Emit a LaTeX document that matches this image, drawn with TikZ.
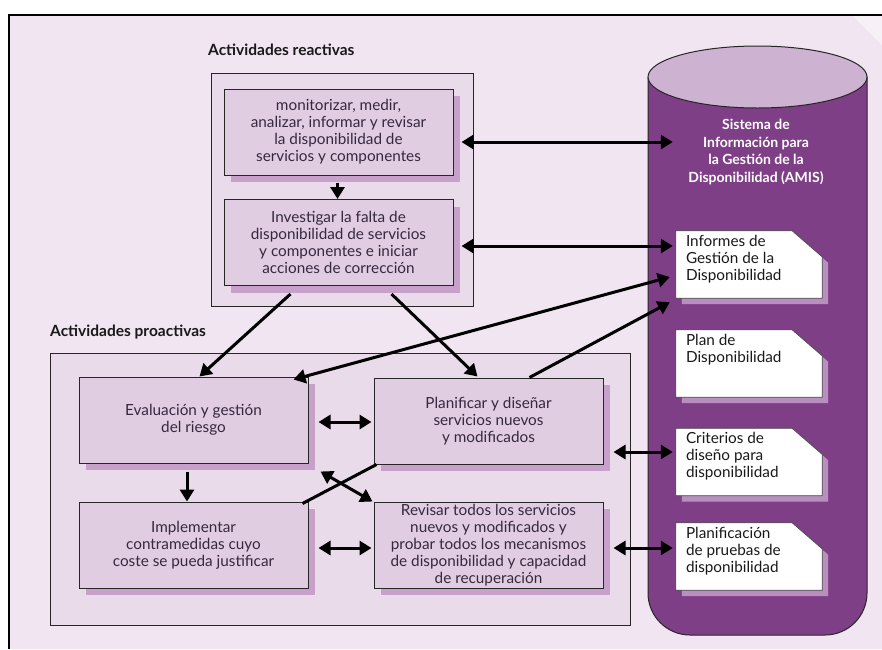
\documentclass[tikz,border=0pt]{standalone}
\usepackage{fontspec}
\setmainfont{Lato}
\usetikzlibrary{arrows.meta,calc,shadows}

\definecolor{pagebg}{HTML}{F0E5F0}
\definecolor{cornerbg}{HTML}{F7F1F7}
\definecolor{groupfill}{HTML}{E9DBEA}
\definecolor{boxfill}{HTML}{E0CDE1}
\definecolor{boxshade}{HTML}{C7A1C9}
\definecolor{boxtext}{HTML}{35283F}
\definecolor{cylbody}{HTML}{7F3F87}
\definecolor{cyltop}{HTML}{CDB2D1}
\definecolor{docshade}{HTML}{B98FC0}

% folded-corner page drawn on the frame of an empty node
\newcommand\docpage[1]{%
  \fill[docshade] ($(#1.north west)+(6,6)$) -- ($(#1.north east)+(-24,6)$)
    -- ($(#1.north east)+(6,32)$) -- ($(#1.south east)+(6,6)$)
    -- ($(#1.south west)+(6,6)$) -- cycle;
  \draw[fill=white, draw=black!70, line width=0.8pt] (#1.north west)
    -- ($(#1.north east)+(-30,0)$) -- ($(#1.north east)+(0,26)$)
    -- (#1.south east) -- (#1.south west) -- cycle;}

\begin{document}
\begin{tikzpicture}[x=1pt, y=-1pt,
  grouplabel/.style={font=\bfseries\fontsize{15.5}{17}\selectfont, text=black!90, anchor=west, inner sep=0pt},
  groupbox/.style={draw=black!85, line width=1pt, fill=groupfill},
  actbox/.style={draw=black!85, line width=1pt, fill=boxfill, text=boxtext,
    minimum width=229pt, minimum height=86pt, inner sep=1pt, align=center,
    font=\fontsize{15.3}{17}\selectfont,
    drop shadow={shadow xshift=7pt, shadow yshift=-7pt, fill=boxshade, opacity=1}},
  docarea/.style={minimum width=146pt, minimum height=67pt, inner sep=0pt},
  doctext/.style={anchor=north west, align=left, inner sep=0pt, text=black!90,
    font=\fontsize{15.3}{17}\selectfont},
  conn/.style={line width=3pt, -{Triangle[length=12pt,width=14pt]}},
  dconn/.style={line width=3pt, {Triangle[length=12pt,width=14pt]}-{Triangle[length=12pt,width=14pt]}},
  plain/.style={line width=3pt}]

\useasboundingbox (0,0) rectangle (882,649);

% page background and frame
\fill[white] (0,0) rectangle (882,649);
\fill[pagebg] (9,15) -- (852,15) -- (882,45) -- (882,649) -- (9,649) -- cycle;
\fill[cornerbg] (852,15) -- (882,15) -- (882,45) -- cycle;
\draw[line width=2pt] (9,649) -- (9,15) -- (882,15);

% group frames
\node[grouplabel] (lreac) at (208,50) {Actividades reactivas};
\node[grouplabel] (lproa) at (50,332) {Actividades proactivas};
\node[groupbox, minimum width=262pt, minimum height=233pt] (reac) at (342,189.5) {};
\node[groupbox, minimum width=580pt, minimum height=272pt] (proa) at (340,489) {};

% AMIS cylinder
\draw[fill=cylbody, draw=black!85, line width=1pt]
  (648,77) [rounded corners=42pt] -- (648,635) -- (867,635) [sharp corners] -- (867,77) -- cycle;
\draw[fill=cyltop, draw=black!85, line width=1pt] (757.5,77) ellipse [x radius=109.5pt, y radius=31pt];
\node[font=\bfseries\fontsize{14}{17.5}\selectfont, text=white, align=center] (amis) at (756,152)
  {Sistema de\\Información para\\la Gestión de la\\Disponibilidad (AMIS)};

% documents held in AMIS
\path node[docarea] (d1) at (749,264.5) {};
\docpage{d1}
\node[doctext] (t1) at ($(d1.north west)+(10,4)$) {Informes de\\Gestión de la\\Disponibilidad};
\path node[docarea] (d2) at (749,363.5) {};
\docpage{d2}
\node[doctext] (t2) at ($(d2.north west)+(10,4)$) {Plan de\\Disponibilidad};
\path node[docarea] (d3) at (749,462) {};
\docpage{d3}
\node[doctext] (t3) at ($(d3.north west)+(10,4)$) {Criterios de\\diseño para\\disponibilidad};
\path node[docarea] (d4) at (749,556.5) {};
\docpage{d4}
\node[doctext] (t4) at ($(d4.north west)+(10,4)$) {Planificación\\de pruebas de\\disponibilidad};

% activity boxes
\node[actbox] (b1) at (338.5,132) {monitorizar, medir,\\analizar, informar y revisar\\la disponibilidad de\\servicios y componentes};
\node[actbox] (b2) at (338.5,242.5) {Investigar la falta de\\disponibilidad de servicios\\y componentes e iniciar\\acciones de corrección};
\node[actbox] (ev) at (193.5,420) {Evaluación y gestión\\del riesgo};
\node[actbox] (im) at (193.5,545) {Implementar\\contramedidas cuyo\\coste se pueda justificar};
\node[actbox] (pl) at (488.5,421) {Planificar y diseñar\\servicios nuevos\\y modificados};
\node[actbox, inner ysep=0pt] (rv) at (488.5,545) {Revisar todos los servicios\\nuevos y modificados y\\probar todos los mecanismos\\de disponibilidad y capacidad\\de recuperación};

% connectors
\coordinate (s1) at ($(b1.east)+(8,10)$);
\coordinate (s2) at ($(b2.east)+(8,3.5)$);
\coordinate (s12) at ($(pl.east)+(10,31)$);
\coordinate (s13) at ($(rv.east)+(10,3)$);
\draw[dconn, shorten >=3pt] (s1) -- (s1 -| d1.west);
\draw[dconn, shorten >=3pt] (s2) -- (s2 -| d1.west);
\draw[dconn, shorten >=3pt] (s12) -- (s12 -| d3.west);
\draw[dconn, shorten >=3pt] (s13) -- (s13 -| d4.west);

\draw[conn] ($(b1.south)+(-1,7)$) -- ($(b2.north)+(-1,0)$);
\draw[conn] ($(b2.south)+(-48,8)$) -- ($(ev.north)+(6,0)$);
\draw[conn] ($(b2.south)+(53,8)$) -- ($(pl.north)+(-11,-1)$);
\draw[dconn] ($(ev.north east)+(-15,3)$) -- ($(d1.west)+(-6,12.5)$);
\draw[conn] ($(pl.north)+(41,0)$) -- ($(d1.south west)+(-6,4)$);
\draw[dconn] ($(ev.east)+(10,2)$) -- ($(pl.west)+(-2,1)$);
\draw[dconn] ($(im.east)+(10,3)$) -- ($(rv.west)+(-2,3)$);
\draw[conn] ($(ev.south)+(-6.5,8)$) -- ($(im.north)+(-6.5,0)$);
\draw[dconn] ($(ev.south east)+(12,8)$) -- ($(rv.north west)+(-1,0)$);
\draw[plain] ($(pl.south west)+(3,0)$) -- ($(im.north east)+(-6,2)$);

\end{tikzpicture}
\end{document}
